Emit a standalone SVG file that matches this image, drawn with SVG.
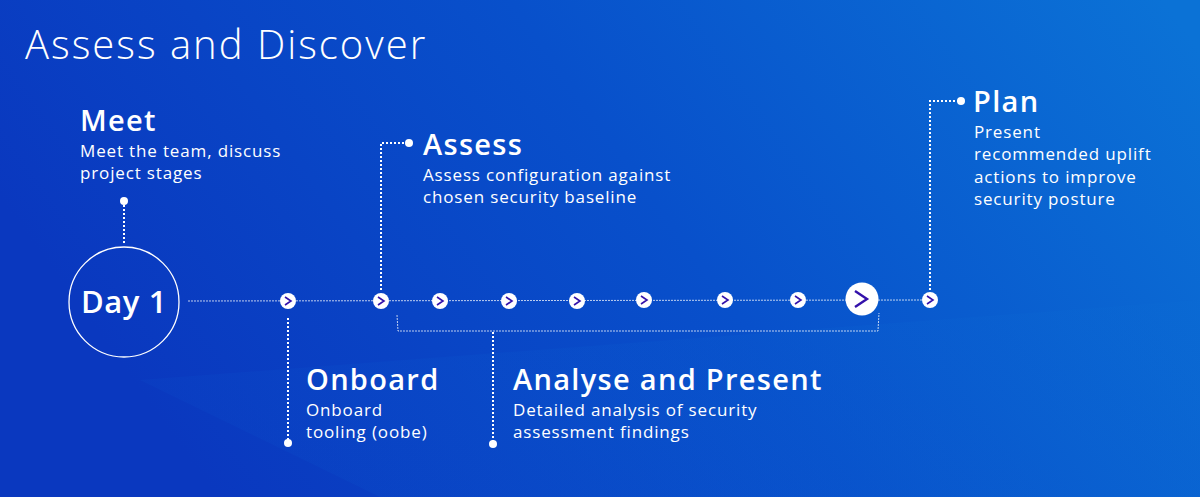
<svg xmlns="http://www.w3.org/2000/svg" width="1200" height="497" viewBox="0 0 1200 497">
<defs>
<linearGradient id="bg" x1="0" y1="0.4" x2="1" y2="0.1">
<stop offset="0" stop-color="#0a38bf"/>
<stop offset="0.5" stop-color="#0850cb"/>
<stop offset="1" stop-color="#0b72d6"/>
</linearGradient>
<linearGradient id="bg2" x1="0" y1="0" x2="1" y2="0">
<stop offset="0" stop-color="#0b4fcc" stop-opacity="0.35"/>
<stop offset="1" stop-color="#0b6cd4" stop-opacity="0.5"/>
</linearGradient>
<symbol id="chev" viewBox="-8 -8 16 16" overflow="visible">
<circle r="8" fill="#fff"/>
<path d="M-3,-4 L3,0 L-3,4" fill="none" stroke="#3311aa" stroke-width="1.6" stroke-linejoin="miter"/>
</symbol>
</defs>
<style>
.title{font-family:"Open Sans",sans-serif;font-weight:300;font-size:40px;letter-spacing:2px;fill:#fff}
.head{font-family:"Open Sans",sans-serif;font-weight:600;font-size:29px;letter-spacing:1.3px;fill:#fff}
.body{font-family:"Open Sans",sans-serif;font-weight:400;font-size:17px;letter-spacing:0.85px;fill:#fff}
.dot{stroke:#fff;stroke-width:2;stroke-dasharray:2 2;fill:none}
.thin{stroke:#fff;stroke-opacity:0.75;stroke-width:1;stroke-dasharray:2 1;fill:none}
.end{fill:#fff}
</style>
<rect width="1200" height="497" fill="url(#bg)"/>
<path d="M140,380 L380,497 L1200,497 L1200,300 Z" fill="url(#bg2)" opacity="0.5"/>
<text class="title" x="25" y="59">Assess and Discover</text>

<g id="connectors">
<line class="thin" x1="188" y1="301" x2="930" y2="300"/>
<line class="dot" x1="124" y1="205" x2="124" y2="243"/>
<line class="dot" x1="288" y1="318" x2="288" y2="440"/>
<polyline class="dot" points="381,290 381,143 406,143"/>
<polyline class="dot" points="930,290 930,101 958,101"/>
<polyline class="thin" points="397,315 398,331 878,331 879,313"/>
<line class="dot" x1="493" y1="332" x2="493" y2="441"/>
<circle class="end" cx="124" cy="201" r="4"/>
<circle class="end" cx="288" cy="443" r="4"/>
<circle class="end" cx="409" cy="143" r="4"/>
<circle class="end" cx="961" cy="101" r="4"/>
<circle class="end" cx="493" cy="444" r="4"/>
<use href="#chev" x="280" y="293" width="16" height="16"/>
<use href="#chev" x="373" y="293" width="16" height="16"/>
<use href="#chev" x="432" y="293" width="16" height="16"/>
<use href="#chev" x="501" y="293" width="16" height="16"/>
<use href="#chev" x="569" y="293" width="16" height="16"/>
<use href="#chev" x="636" y="292" width="16" height="16"/>
<use href="#chev" x="717" y="292" width="16" height="16"/>
<use href="#chev" x="790" y="292" width="16" height="16"/>
<use href="#chev" x="922" y="292" width="16" height="16"/>
</g>

<g id="big-chevron">
<circle cx="862" cy="299" r="16.5" fill="#fff"/>
<path d="M855,291 L867,299 L855,307" fill="none" stroke="#3311aa" stroke-width="2.4"/>
</g>

<g id="day1">
<circle cx="124" cy="302" r="55" fill="none" stroke="#fff" stroke-width="1.3"/>
<text x="124" y="313" text-anchor="middle" font-family="'Open Sans',sans-serif" font-weight="600" font-size="31" letter-spacing="0.6" fill="#fff">Day 1</text>
</g>

<g id="meet">
<text class="head" x="80" y="131">Meet</text>
<text class="body" x="80" y="157">Meet the team, discuss</text>
<text class="body" x="80" y="179">project stages</text>
</g>

<g id="assess">
<text class="head" x="423" y="155">Assess</text>
<text class="body" x="423" y="181">Assess configuration against</text>
<text class="body" x="423" y="203">chosen security baseline</text>
</g>

<g id="plan">
<text class="head" x="973" y="112">Plan</text>
<text class="body" x="974" y="138">Present</text>
<text class="body" x="974" y="160">recommended uplift</text>
<text class="body" x="974" y="183">actions to improve</text>
<text class="body" x="974" y="205">security posture</text>
</g>

<g id="onboard">
<text class="head" x="306" y="390">Onboard</text>
<text class="body" x="306" y="416">Onboard</text>
<text class="body" x="306" y="438">tooling (oobe)</text>
</g>

<g id="analyse">
<text class="head" x="513" y="390">Analyse and Present</text>
<text class="body" x="513" y="416">Detailed analysis of security</text>
<text class="body" x="513" y="438">assessment findings</text>
</g>
</svg>
